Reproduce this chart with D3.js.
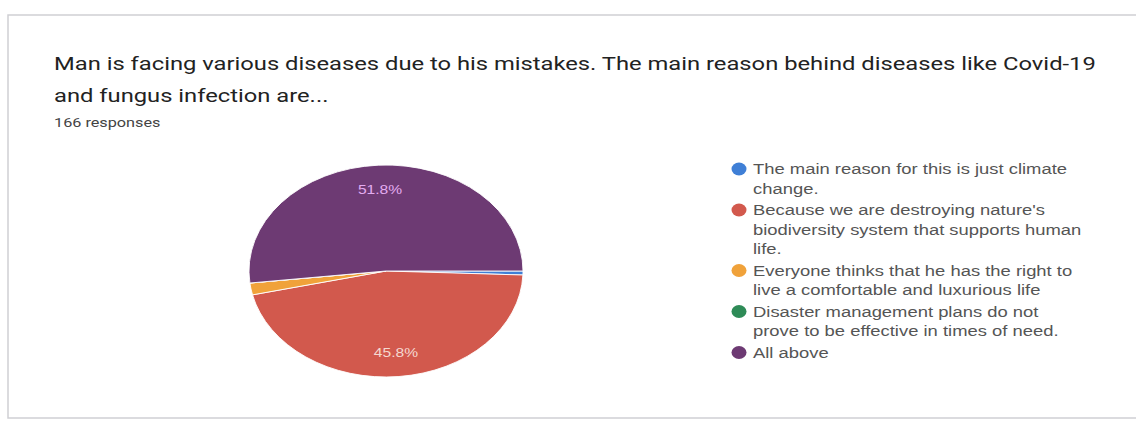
<!DOCTYPE html>
<html>
<head>
<meta charset="utf-8">
<script src="https://d3js.org/d3.v7.min.js"></script>
<style>
  body { margin: 0; background: #fff; }
  svg { display: block; }
</style>
</head>
<body>
<script>
// responses out of 166
var categories = [
  "The main reason for this is just climate change.",
  "Because we are destroying nature's biodiversity system that supports human life.",
  "Everyone thinks that he has the right to live a comfortable and luxurious life",
  "Disaster management plans do not prove to be effective in times of need.",
  "All above"
];
var legendLines = [
  ["The main reason for this is just climate", "change."],
  ["Because we are destroying nature's", "biodiversity system that supports human", "life."],
  ["Everyone thinks that he has the right to", "live a comfortable and luxurious life"],
  ["Disaster management plans do not", "prove to be effective in times of need."],
  ["All above"]
];
var counts = [1, 76, 3, 0, 86];
var colors = ["#3f7fd6", "#d2594d", "#f0a23a", "#2e8b57", "#6d3a73"];

var W = 1136, H = 421;
var stretch = 1.25; // the photo is squeezed wider than it is tall
var svg = d3.select("body").append("svg").attr("width", W).attr("height", H);

// card outline
svg.append("rect")
  .attr("x", 8).attr("y", 15)
  .attr("width", W + 20).attr("height", 403)
  .attr("fill", "#fff")
  .attr("stroke", "#cfcfd4").attr("stroke-width", 1.5);

// titles
var title = svg.append("g")
  .attr("transform", "translate(54,0) scale(" + stretch + ",1)")
  .attr("font-family", "Roboto, Arial, sans-serif").attr("fill", "#222");
title.append("text").attr("x", 0).attr("y", 70).attr("font-size", 19)
  .text("Man is facing various diseases due to his mistakes. The main reason behind diseases like Covid-19");
title.append("text").attr("x", 0).attr("y", 102).attr("font-size", 19)
  .text("and fungus infection are...");
title.append("text").attr("x", 0).attr("y", 127).attr("font-size", 13).attr("fill", "#444")
  .text("166 responses");

// pie (photo squashes it into an ellipse)
var cx = 386, cy = 271, rx = 137, ry = 106;
var pie = d3.pie().sort(null).value(function(d) { return d; })
  .startAngle(Math.PI / 2).endAngle(Math.PI / 2 + 2 * Math.PI);
var arcs = pie(counts);
var arc = d3.arc().innerRadius(0).outerRadius(rx);
var total = d3.sum(counts);

var g = svg.append("g")
  .attr("transform", "translate(" + cx + "," + cy + ") scale(1," + (ry / rx) + ")");
g.selectAll("path")
  .data(arcs)
  .enter().append("path")
  .attr("d", arc)
  .attr("fill", function(d, i) { return colors[i]; })
  .attr("stroke", "#fff").attr("stroke-width", 1);

var labelArc = d3.arc().innerRadius(rx * 0.77).outerRadius(rx * 0.77);
svg.append("g").selectAll("text")
  .data(arcs.filter(function(d) { return d.value / total > 0.1; }))
  .enter().append("text")
  .attr("transform", function(d) {
    var c = labelArc.centroid(d);
    return "translate(" + (cx + c[0]) + "," + (cy + c[1] * ry / rx) + ") scale(" + stretch + ",1)";
  })
  .attr("text-anchor", "middle").attr("dy", "0.35em")
  .attr("font-family", "Arial, sans-serif").attr("font-size", 12.5)
  .attr("fill", function(d) { return d.index === 4 ? "#e3acf0" : "#f5d8d0"; })
  .text(function(d) { return (d.value / total * 100).toFixed(1) + "%"; });

// legend
var lineH = 19.5, y0 = 169;
var legend = svg.append("g");
var legendText = svg.append("g")
  .attr("transform", "translate(753,0) scale(" + (stretch + 0.02) + ",1)")
  .attr("font-family", "Arial, sans-serif").attr("font-size", 14.5).attr("fill", "#555");
var y = y0;
legendLines.forEach(function(lines, i) {
  legend.append("ellipse").attr("cx", 739).attr("cy", y).attr("rx", 7.5).attr("ry", 6.5).attr("fill", colors[i]);
  lines.forEach(function(t, j) {
    legendText.append("text").attr("x", 0).attr("y", y + j * lineH).attr("dy", "0.35em").text(t);
  });
  y += lines.length * lineH + 2;
});
</script>
</body>
</html>
